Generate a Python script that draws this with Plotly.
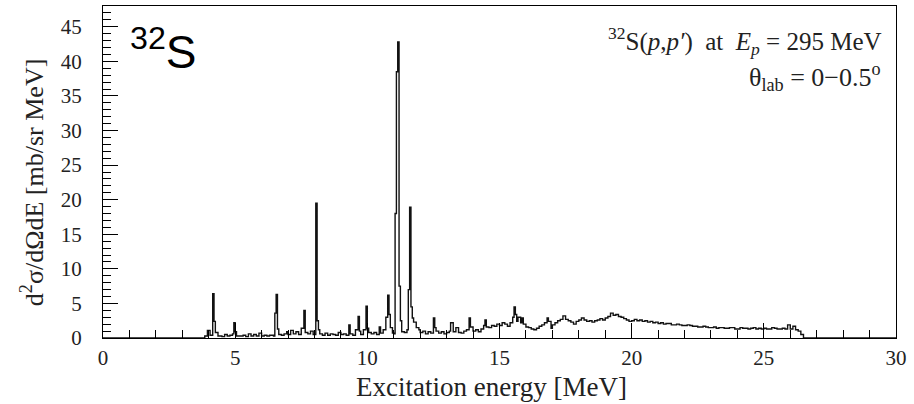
import plotly.graph_objects as go

# Step-histogram breakpoints (MeV) and cross sections (mb/sr MeV)
energy = [
    0.0, 3.85, 3.95, 4.05, 4.15, 4.2, 4.25, 4.35, 4.5, 4.6, 4.7, 4.8, 4.9, 4.95, 5.0, 5.05,
    5.2, 5.3, 5.4, 5.5, 5.6, 5.7, 5.8, 5.9, 6.0, 6.1, 6.2, 6.3, 6.45, 6.5, 6.55, 6.6, 6.65,
    6.75, 6.85, 6.95, 7.0, 7.1, 7.2, 7.3, 7.4, 7.5, 7.6, 7.65, 7.75, 7.85, 7.95, 8.05, 8.1,
    8.15, 8.2, 8.3, 8.4, 8.5, 8.6, 8.7, 8.8, 8.9, 9.0, 9.1, 9.2, 9.3, 9.35, 9.45, 9.55, 9.65,
    9.7, 9.75, 9.85, 9.95, 10.0, 10.05, 10.15, 10.25, 10.35, 10.45, 10.5, 10.6, 10.7, 10.77,
    10.82, 10.87, 10.95, 11.0, 11.05, 11.1, 11.15, 11.2, 11.25, 11.3, 11.4, 11.5, 11.55,
    11.6, 11.65, 11.7, 11.75, 11.85, 11.95, 12.0, 12.1, 12.2, 12.3, 12.4, 12.5, 12.55, 12.6,
    12.7, 12.8, 12.9, 13.0, 13.1, 13.15, 13.25, 13.35, 13.45, 13.55, 13.65, 13.75, 13.85,
    13.9, 14.0, 14.1, 14.2, 14.3, 14.4, 14.45, 14.5, 14.6, 14.7, 14.8, 14.9, 15.0, 15.1,
    15.2, 15.3, 15.4, 15.5, 15.55, 15.6, 15.65, 15.7, 15.8, 15.85, 15.9, 16.0, 16.1, 16.2,
    16.3, 16.4, 16.5, 16.6, 16.7, 16.8, 16.85, 16.95, 17.0, 17.1, 17.2, 17.3, 17.4, 17.5,
    17.6, 17.7, 17.8, 17.9, 18.0, 18.1, 18.2, 18.3, 18.4, 18.5, 18.6, 18.7, 18.8, 18.9,
    19.0, 19.1, 19.2, 19.3, 19.4, 19.5, 19.6, 19.7, 19.8, 19.9, 20.0, 20.1, 20.2, 20.3,
    20.4, 20.5, 20.6, 20.7, 20.8, 20.9, 21.0, 21.1, 21.2, 21.3, 21.4, 21.5, 21.6, 21.7,
    21.8, 21.9, 22.0, 22.1, 22.2, 22.3, 22.4, 22.5, 22.6, 22.7, 22.8, 22.9, 23.0, 23.1,
    23.2, 23.3, 23.4, 23.5, 23.6, 23.7, 23.8, 23.9, 24.0, 24.1, 24.2, 24.3, 24.4, 24.5,
    24.6, 24.7, 24.8, 24.9, 25.0, 25.1, 25.2, 25.3, 25.4, 25.5, 25.6, 25.7, 25.8, 25.9,
    26.0, 26.1, 26.2, 26.3, 26.4, 26.5, 30.0,
]
cross_section = [
    0.0, 0.3, 1.1, 0.4, 6.4, 2.4, 0.8, 0.3, 0.2, 0.5, 0.3, 0.4, 0.6, 2.2, 0.9, 0.3,
    0.3, 0.4, 0.2, 0.6, 0.3, 0.5, 0.3, 0.7, 0.3, 0.4, 0.3, 0.4, 0.3, 3.6, 6.3, 1.3, 0.5,
    0.4, 0.6, 0.9, 0.5, 1.1, 0.6, 0.9, 0.5, 1.4, 4.0, 0.8, 0.6, 1.0, 0.5, 19.5, 2.5,
    1.2, 0.6, 0.4, 0.7, 0.4, 0.6, 0.5, 0.4, 0.8, 0.5, 0.6, 0.4, 1.9, 0.6, 0.4, 1.2, 3.1,
    1.0, 0.5, 1.2, 4.6, 1.4, 0.8, 0.6, 0.8, 0.5, 1.6, 0.7, 1.2, 3.0, 6.2,
    3.4, 1.5, 0.7, 0.6, 18.0, 38.5, 42.8, 7.5, 2.5, 0.9, 0.8, 1.2, 7.0,
    18.9, 4.5, 2.9, 2.3, 1.5, 1.2, 0.8, 1.0, 0.6, 0.9, 0.7, 2.9, 1.5, 1.0,
    0.7, 0.9, 0.6, 0.8, 1.0, 2.2, 0.9, 1.5, 0.8, 0.7, 1.0, 1.2, 2.9,
    1.6, 1.0, 1.2, 0.9, 1.3, 1.8, 2.6, 1.6, 1.5, 1.8, 1.7, 2.0, 1.8, 2.2,
    2.0, 1.7, 2.2, 3.0, 4.5, 3.4, 2.4, 3.0, 2.2, 2.9, 2.0, 1.6, 1.5, 1.3,
    1.2, 1.4, 1.7, 1.9, 2.2, 2.9, 2.4, 1.4, 1.9, 2.2, 2.5, 2.7, 3.2, 2.7,
    2.5, 2.3, 2.0, 2.4, 2.6, 2.9, 2.6, 2.4, 2.5, 2.3, 2.5, 2.6, 2.8, 2.6,
    2.9, 3.1, 3.6, 3.3, 3.4, 3.1, 3.0, 2.8, 2.6, 2.4, 2.5, 2.7, 2.5, 2.6,
    2.4, 2.5, 2.3, 2.4, 2.2, 2.3, 2.1, 2.2, 2.0, 2.1, 2.1, 1.9, 1.9, 2.0,
    1.9, 1.8, 1.8, 1.9, 1.8, 1.7, 1.7, 1.6, 1.6, 1.7, 1.6, 1.5, 1.5, 1.6,
    1.4, 1.5, 1.5, 1.4, 1.4, 1.5, 1.5, 1.3, 1.3, 1.5, 1.4, 1.4, 1.3, 1.4,
    1.5, 1.3, 1.4, 1.3, 1.4, 1.3, 1.3, 1.5, 1.4, 1.3, 1.3, 1.4, 1.3, 1.9,
    1.3, 1.7, 1.2, 1.0, 0.5, 0.0, 0.0,
]

x_ticks = [0, 5, 10, 15, 20, 25, 30]
y_ticks = [0, 5, 10, 15, 20, 25, 30, 35, 40, 45]

SERIF = "Liberation Serif"
SANS = "Liberation Sans"
INK = "#222222"

fig = go.Figure()
fig.add_trace(go.Scatter(
    x=energy, y=cross_section, mode="lines", line_shape="hv",
    line=dict(color="#111111", width=1.4), showlegend=False, hoverinfo="skip",
))

axis_common = dict(
    showline=True, linecolor="black", linewidth=1.3, mirror=True,
    showgrid=False, zeroline=False, ticks="inside", tickcolor="black",
    tickwidth=1, ticklen=15,
    tickfont=dict(family=SERIF, size=21, color=INK),
)
fig.update_xaxes(
    range=[0, 30], tickvals=x_ticks, ticktext=[str(v) for v in x_ticks],
    minor=dict(dtick=1, ticks="inside", ticklen=8, tickcolor="black", tickwidth=1),
    ticklabelstandoff=1, **axis_common,
)
fig.update_yaxes(
    range=[0, 48], tickvals=y_ticks, ticktext=[str(v) for v in y_ticks],
    minor=dict(dtick=1, ticks="inside", ticklen=8, tickcolor="black", tickwidth=1),
    ticklabelstandoff=16, **axis_common,
)

fig.update_layout(
    width=914, height=404,
    margin=dict(l=103, r=18, t=6, b=66),
    paper_bgcolor="white", plot_bgcolor="white",
    annotations=[
        dict(text="Excitation energy [MeV]", xref="paper", yref="paper",
             x=0.49, y=-0.148, xanchor="center", yanchor="middle", showarrow=False,
             font=dict(family=SERIF, size=27, color=INK)),
        dict(text="d<sup>2</sup>σ/dΩdE [mb/sr MeV]", xref="paper", yref="paper",
             x=-0.088, y=0.47, xanchor="center", yanchor="middle", showarrow=False,
             textangle=-90, font=dict(family=SERIF, size=26, color=INK)),
        dict(text="<sup>32</sup>S", xref="paper", yref="paper",
             x=0.032, y=0.965, xanchor="left", yanchor="top", showarrow=False,
             font=dict(family=SANS, size=46, color="black")),
        dict(text="<sup>32</sup>S(<i>p</i>,<i>p′</i>)&nbsp;&nbsp;at&nbsp;&nbsp;<i>E<sub>p</sub></i> = 295 MeV",
             xref="paper", yref="paper", x=0.985, y=0.895, xanchor="right", yanchor="middle",
             showarrow=False, font=dict(family=SERIF, size=25, color=INK)),
        dict(text="θ<sub>lab</sub> = 0−0.5<sup>o</sup>",
             xref="paper", yref="paper", x=0.983, y=0.785, xanchor="right", yanchor="middle",
             showarrow=False, font=dict(family=SERIF, size=26, color=INK)),
    ],
)

fig.write_html("out.html", config={"displayModeBar": False},
               post_script="document.body.style.margin='0';")
